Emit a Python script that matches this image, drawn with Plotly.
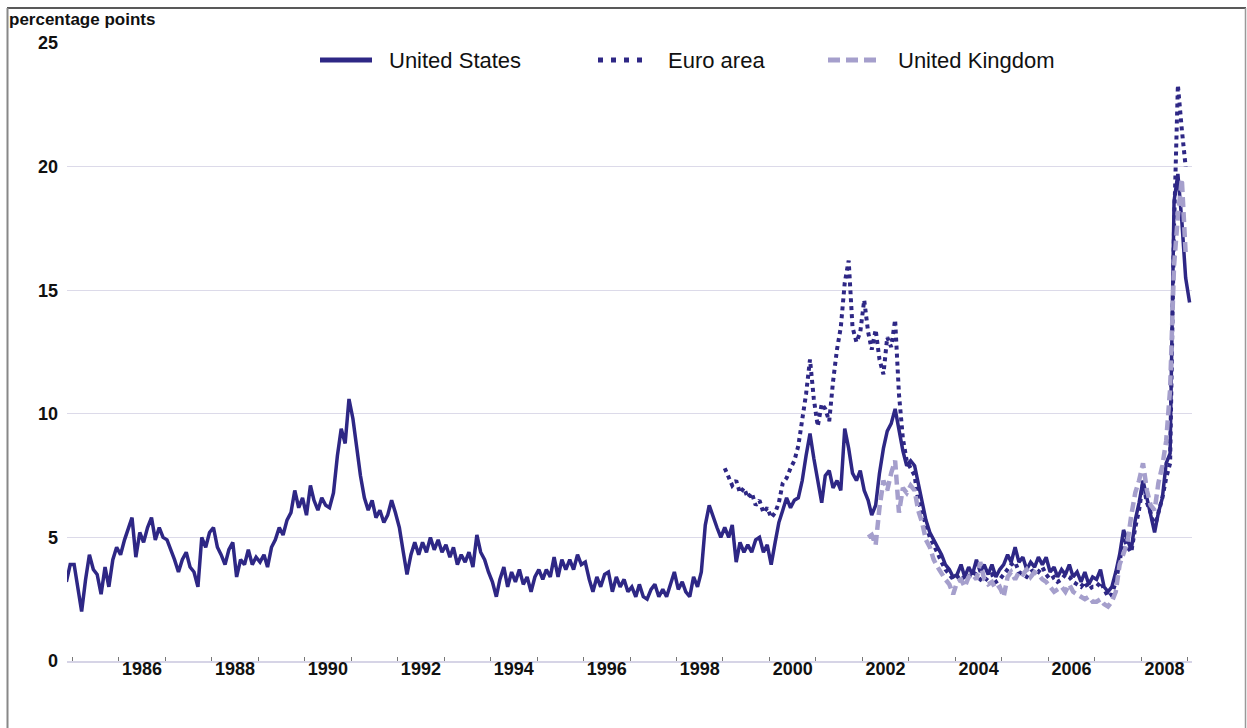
import pandas as pd
import plotly.graph_objects as go

# ---------------- data (monthly observations, percentage points) ----------------
# United States: Nov 1984 .. Jan 2009
us_start = "1984-11-01"
us_values = [
    3.2, 3.9,                                                        # 1984 Nov-Dec
    3.9, 2.9, 2.0, 3.3, 4.3, 3.7, 3.5, 2.7, 3.8, 3.0, 4.1, 4.6,      # 1985
    4.3, 4.9, 5.3, 5.8, 4.2, 5.2, 4.8, 5.4, 5.8, 4.9, 5.4, 5.0,      # 1986
    4.9, 4.5, 4.1, 3.6, 4.1, 4.4, 3.8, 3.6, 3.0, 5.0, 4.6, 5.2,      # 1987
    5.4, 4.6, 4.3, 3.9, 4.5, 4.8, 3.4, 4.1, 3.9, 4.5, 3.9, 4.2,      # 1988
    4.0, 4.3, 3.8, 4.6, 4.9, 5.4, 5.1, 5.7, 6.0, 6.9, 6.2, 6.6,      # 1989
    5.9, 7.1, 6.5, 6.1, 6.6, 6.3, 6.2, 6.8, 8.3, 9.4, 8.8, 10.6,     # 1990
    9.8, 8.6, 7.5, 6.6, 6.1, 6.5, 5.8, 6.1, 5.6, 5.9, 6.5, 6.0,      # 1991
    5.4, 4.4, 3.5, 4.3, 4.8, 4.3, 4.8, 4.4, 5.0, 4.5, 4.9, 4.4,      # 1992
    4.7, 4.2, 4.6, 3.9, 4.3, 4.0, 4.4, 3.8, 5.1, 4.4, 4.1, 3.6,      # 1993
    3.2, 2.6, 3.3, 3.8, 3.0, 3.6, 3.2, 3.7, 3.1, 3.4, 2.8, 3.4,      # 1994
    3.7, 3.3, 3.7, 3.4, 4.2, 3.4, 4.1, 3.7, 4.1, 3.7, 4.3, 3.9,      # 1995
    4.0, 3.3, 2.8, 3.4, 3.0, 3.5, 3.6, 2.8, 3.4, 3.0, 3.3, 2.8,      # 1996
    3.0, 2.6, 3.1, 2.6, 2.5, 2.9, 3.1, 2.6, 2.9, 2.6, 3.1, 3.6,      # 1997
    2.9, 3.2, 2.8, 2.6, 3.4, 3.0, 3.6, 5.5, 6.3, 5.8, 5.4, 5.0,      # 1998
    5.4, 5.0, 5.5, 4.0, 4.8, 4.4, 4.7, 4.4, 4.9, 5.0, 4.4, 4.7,      # 1999
    3.9, 4.8, 5.6, 6.1, 6.6, 6.2, 6.5, 6.6, 7.3, 8.3, 9.2, 8.2,      # 2000
    7.3, 6.4, 7.5, 7.7, 7.0, 7.3, 6.9, 9.4, 8.6, 7.6, 7.3, 7.7,      # 2001
    6.9, 6.5, 5.9, 6.3, 7.6, 8.6, 9.3, 9.6, 10.2, 9.3, 8.5, 7.9,     # 2002
    8.1, 7.9, 7.2, 6.3, 5.7, 5.2, 4.9, 4.6, 4.3, 3.9, 3.7, 3.4,      # 2003
    3.5, 3.9, 3.4, 3.8, 3.5, 4.1, 3.6, 3.9, 3.5, 3.9, 3.4, 3.7,      # 2004
    3.9, 4.3, 4.0, 4.6, 4.0, 4.2, 3.7, 4.0, 3.8, 4.2, 3.9, 4.2,      # 2005
    3.6, 3.8, 3.4, 3.7, 3.5, 3.9, 3.4, 3.6, 3.2, 3.6, 3.1, 3.4,      # 2006
    3.3, 3.7, 3.0, 2.8, 3.0, 3.6, 4.3, 5.3, 4.9, 4.5, 5.7, 6.4,      # 2007
    7.3, 6.6, 6.0, 5.2, 6.0, 6.6, 8.0, 8.4, 18.6, 19.7, 17.8, 15.5,  # 2008
    14.5,                                                            # 2009 Jan
]

# Euro area: Jan 1999 .. Dec 2008
euro_start = "1999-01-01"
euro_values = [
    7.8, 7.4, 7.1, 7.3, 6.8, 7.0, 6.6, 6.8, 6.3, 6.5, 6.0, 6.2,       # 1999
    5.8, 6.0, 6.4, 7.2, 7.4, 7.8, 8.1, 8.7, 9.7, 10.8, 12.2, 10.6,    # 2000
    9.5, 10.4, 10.2, 9.7, 11.3, 12.6, 13.5, 15.3, 16.2, 13.5, 12.9, 13.3,  # 2001
    14.6, 13.3, 12.6, 13.4, 12.2, 11.6, 13.1, 12.7, 13.8, 10.8, 9.0, 8.1,  # 2002
    7.8, 7.5, 6.5, 6.0, 5.6, 5.0, 4.7, 4.3, 4.0, 3.7, 3.5, 3.3,       # 2003
    3.4, 3.5, 3.3, 3.4, 3.6, 3.5, 3.3, 3.2, 3.4, 3.5, 3.2, 3.3,       # 2004
    3.5, 3.7, 3.9, 4.0, 3.6, 3.5, 3.4, 3.6, 3.7, 3.6, 3.8, 3.5,       # 2005
    3.3, 3.4, 3.2, 3.3, 3.5, 3.4, 3.2, 3.1, 3.0, 3.2, 2.9, 3.0,       # 2006
    3.0, 3.2, 2.9, 2.6, 2.7, 3.2, 4.0, 5.0, 4.6, 4.4, 5.4, 6.1,       # 2007
    7.2, 6.4, 6.0, 5.4, 6.0, 6.6, 7.4, 8.0, 17.6, 23.3, 21.5, 20.0,   # 2008
]

# United Kingdom: Feb 2002 .. Dec 2008
uk_start = "2002-02-01"
uk_values = [
    5.0, 5.1, 4.7, 6.2, 7.3, 6.9, 7.6, 8.1, 6.0, 7.0, 6.8,            # 2002 Feb-Dec
    7.1, 6.9, 6.1, 5.6, 4.9, 4.6, 4.1, 3.8, 3.5, 3.3, 3.1, 2.7,       # 2003
    3.2, 3.3, 3.0, 3.4, 3.5, 3.3, 4.0, 3.3, 3.1, 3.2, 2.9, 3.0,       # 2004
    2.6, 3.4, 3.6, 3.3, 3.6, 3.5, 3.7, 3.4, 3.6, 3.5, 3.3, 3.2,       # 2005
    3.0, 2.8, 2.9, 3.0, 2.8, 3.1, 2.8, 2.7, 2.6, 2.5, 2.6, 2.4,       # 2006
    2.4, 2.5, 2.3, 2.2, 2.4, 2.8, 3.9, 4.3, 4.8, 5.9, 6.8, 7.3,       # 2007
    8.0, 6.9, 6.3, 6.1, 7.2, 7.9, 8.9, 11.0, 16.0, 18.0, 19.5, 16.5,  # 2008
]

series_names = ["United States", "Euro area", "United Kingdom"]
label_years = list(range(1986, 2009, 2))
y_ticks = [0, 5, 10, 15, 20, 25]


def monthly_dates(start, n):
    return pd.date_range(start, periods=n, freq="MS") + pd.Timedelta(days=14)


us_dates = monthly_dates(us_start, len(us_values))
euro_dates = monthly_dates(euro_start, len(euro_values))
uk_dates = monthly_dates(uk_start, len(uk_values))

DARK = "#2e2785"
LIGHT = "#a59fcc"
GRID = "#dcdae9"
FONT = "Liberation Sans, Arial, sans-serif"

fig = go.Figure()
fig.add_trace(go.Scatter(x=us_dates, y=us_values, name=series_names[0], mode="lines",
                         line=dict(color=DARK, width=3.5), showlegend=False))
fig.add_trace(go.Scatter(x=euro_dates, y=euro_values, name=series_names[1], mode="lines",
                         line=dict(color=DARK, width=4, dash="4px,4px"), showlegend=False))
fig.add_trace(go.Scatter(x=uk_dates, y=uk_values, name=series_names[2], mode="lines",
                         line=dict(color=LIGHT, width=4.5, dash="10px,5px"), showlegend=False))

W, H = 1247, 728
L, R, T, B = 67, 55, 43, 67
pw, ph = W - L - R, H - T - B


def px_x(p):
    return (p - L) / pw


def px_y(p):
    return (H - B - p) / ph


shapes = [
    # outer frame
    dict(type="line", xref="paper", yref="paper", x0=px_x(7), x1=px_x(1246), y0=px_y(8), y1=px_y(8),
         line=dict(color="#222", width=1.5)),
    dict(type="line", xref="paper", yref="paper", x0=px_x(7.5), x1=px_x(7.5), y0=px_y(8), y1=px_y(740),
         line=dict(color="#888", width=2)),
    dict(type="line", xref="paper", yref="paper", x0=px_x(1245.5), x1=px_x(1245.5), y0=px_y(8), y1=px_y(740),
         line=dict(color="#999", width=1.5)),
]

# legend drawn as samples + labels
legend_items = [
    (series_names[0], 320, 372, 388, dict(color=DARK, width=5)),
    (series_names[1], 598, 650, 667, dict(color=DARK, width=5, dash="5px,8px")),
    (series_names[2], 828, 880, 897, dict(color=LIGHT, width=5, dash="12px,6px")),
]
annotations = []
for name, x0, x1, xt, ln in legend_items:
    shapes.append(dict(type="line", xref="paper", yref="paper", x0=px_x(x0), x1=px_x(x1),
                       y0=px_y(60), y1=px_y(60), line=ln))
    annotations.append(dict(xref="paper", yref="paper", x=px_x(xt - 1), y=px_y(61), text=name,
                            showarrow=False, xanchor="left", yanchor="middle",
                            font=dict(size=22, color="#111", family=FONT)))

annotations.append(dict(xref="paper", yref="paper", x=px_x(7), y=px_y(20), text="<b>percentage points</b>",
                        showarrow=False, xanchor="left", yanchor="middle",
                        font=dict(size=17, color="#111", family=FONT)))

fig.update_layout(
    width=W, height=H,
    margin=dict(l=L, r=R, t=T, b=B),
    paper_bgcolor="white", plot_bgcolor="white",
    font=dict(family=FONT, color="#111"),
    shapes=shapes,
    annotations=annotations,
    xaxis=dict(
        type="date",
        range=["1984-11-20", "2009-02-03"],
        tickmode="array",
        tickvals=[f"{y}-07-02" for y in label_years],
        ticktext=[f"<b>{y}</b>" for y in label_years],
        ticks="",
        tickfont=dict(size=18, color="#111", family=FONT),
        ticklabelstandoff=-9,
        showgrid=False,
        showline=True, linecolor="#d6d4e6", linewidth=1.5,
        zeroline=False,
        minor=dict(tickmode="linear", tick0="1985-01-01", dtick="M12", ticks="inside",
                   ticklen=4, tickcolor="#777", tickwidth=1, showgrid=False),
    ),
    yaxis=dict(
        range=[0, 25],
        tickmode="array",
        tickvals=y_ticks,
        ticktext=[f"<b>{v}</b>" for v in y_ticks],
        ticks="",
        tickfont=dict(size=18, color="#111", family=FONT),
        showgrid=True, gridcolor=GRID, gridwidth=1,
        zeroline=False, showline=False,
        ticklabelstandoff=8,
    ),
)

fig.write_html("out.html", config={"displayModeBar": False},
               post_script="document.body.style.margin='0';")
